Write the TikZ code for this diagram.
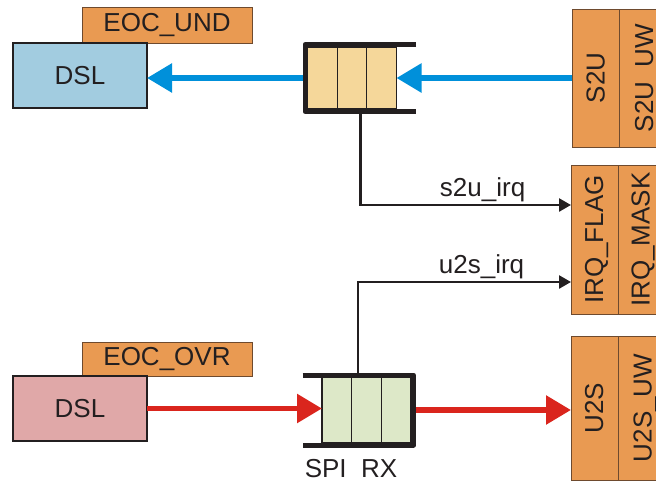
\documentclass[tikz,border=0pt]{standalone}
\usepackage{fontspec}
\setmainfont{Liberation Sans}
\usetikzlibrary{arrows.meta,positioning,calc}

\definecolor{regorange}{HTML}{E99A52}
\definecolor{regbrown}{HTML}{6E4A2E}
\definecolor{dslblue}{HTML}{A2CCE0}
\definecolor{dslpink}{HTML}{E0A8A8}
\definecolor{fifoyellow}{HTML}{F5D79A}
\definecolor{fifogreen}{HTML}{DDE8C8}
\definecolor{linkblue}{HTML}{0090DA}
\definecolor{linkred}{HTML}{DA251D}
\definecolor{inkblack}{HTML}{231F20}

\begin{document}
\begin{tikzpicture}[x=1pt,y=-1pt,
        font=\fontsize{26}{28}\selectfont,text=inkblack,
        dslbox/.style={draw=inkblack,line width=2pt,minimum width=134pt,minimum height=65pt,inner sep=0pt,outer sep=0pt},
        tagbox/.style={draw=regbrown,line width=1pt,fill=regorange,minimum width=170pt,inner sep=0pt,outer sep=0pt},
        regbox/.style={draw=regbrown,line width=1pt,fill=regorange,minimum width=47pt,inner sep=0pt,outer sep=0pt},
        regtext/.style={rotate=90,anchor=base,inner sep=0pt},
        fifobox/.style={minimum width=111pt,inner sep=0pt,outer sep=0pt},
        fifocells/.style={draw=inkblack,line width=1.2pt,minimum width=89pt,inner sep=0pt,outer sep=0pt},
        bracket/.style={draw=inkblack,line width=5pt,line join=round},
        bus/.style={line width=5.5pt,-{Triangle[length=25pt,width=28pt]}},
        sig/.style={draw=inkblack,line width=2.5pt,-{Triangle[length=12pt,width=13pt]}},
        siglabel/.style={above,inner sep=2pt}]
        \path[use as bounding box,clip] (0,0) rectangle (656,482);

        % tags and DSL blocks
        \node[tagbox,minimum height=36pt] (eocU) at (167,25) {EOC\_UND};
        \node[dslbox,fill=dslblue,anchor=north west] (dslU) at ([xshift=-69pt]eocU.south west) {DSL};
        \node[tagbox,minimum height=34pt] (eocD) at (167,359) {EOC\_OVR};
        \node[dslbox,fill=dslpink,anchor=north west] (dslD) at ([xshift=-69pt]eocD.south west) {DSL};

        % FIFOs
        \node[fifobox,minimum height=67pt] (fifoU) at (360.5,78) {};
        \node[fifocells,fill=fifoyellow,minimum height=62pt,anchor=west] (cellsU) at ([xshift=2.5pt]fifoU.west) {};
        \node[fifobox,minimum height=70pt] (fifoD) at (358,410) {};
        \node[fifocells,fill=fifogreen,minimum height=65pt,anchor=east] (cellsD) at ([xshift=-2.5pt]fifoD.east) {};
        \foreach \k in {1,2} {
            \draw[inkblack,line width=1.2pt] ($(cellsU.north west)!\k/3!(cellsU.north east)$) -- ($(cellsU.south west)!\k/3!(cellsU.south east)$);
            \draw[inkblack,line width=1.2pt] ($(cellsD.north west)!\k/3!(cellsD.north east)$) -- ($(cellsD.south west)!\k/3!(cellsD.south east)$);
        }
        \node[below=14pt of fifoD.south,xshift=-7pt,inner sep=0pt] (spiRx) {SPI~\hspace{0.278em}RX};

        % registers
        \node[regbox,minimum height=138pt] (s2u) at (595.5,78) {};
        \node[regbox,minimum height=138pt,right=0pt of s2u] (s2uUW) {};
        \node[regbox,minimum height=149pt] (irqFlag) at (594.5,239.5) {};
        \node[regbox,minimum height=149pt,right=0pt of irqFlag] (irqMask) {};
        \node[regbox,minimum height=144pt] (u2s) at (594.5,408) {};
        \node[regbox,minimum height=144pt,right=0pt of u2s] (u2sUW) {};
        \node[regtext] (s2uText) at ([xshift=9pt]s2u.center) {S2U};
        \node[regtext] (s2uUWText) at ([xshift=10.5pt]s2uUW.center) {S2U\_UW};
        \node[regtext] (irqFlagText) at ([xshift=8.5pt]irqFlag.center) {IRQ\_FLAG};
        \node[regtext] (irqMaskText) at ([xshift=8pt]irqMask.center) {IRQ\_MASK};
        \node[regtext] (u2sText) at ([xshift=8.5pt]u2s.center) {U2S};
        \node[regtext] (u2sUWText) at ([xshift=10pt]u2sUW.center) {U2S\_UW};

        % data paths
        \draw[bus,linkblue] (s2u.west) -- (s2u.west -| cellsU.east);
        \draw[bus,linkblue] (fifoU.west) -- (fifoU.west -| dslU.east);
        \draw[bus,linkred] (dslD.east) -- (dslD.east -| cellsD.west);
        \draw[bus,linkred] (fifoD.east) -- (fifoD.east -| u2s.west);

        % interrupt lines
        \draw[sig] (fifoU.south) |- ([yshift=34.5pt]irqFlag.west) node[siglabel,pos=0.79] {s2u\_irq};
        \draw[sig] (fifoD.north) |- ([yshift=-42.5pt]irqFlag.west) node[siglabel,pos=0.79] {u2s\_irq};

        % FIFO brackets
        \draw[bracket] (fifoU.north east) -- (fifoU.north west) -- (fifoU.south west) -- (fifoU.south east);
        \draw[bracket] (fifoD.north west) -- (fifoD.north east) -- (fifoD.south east) -- (fifoD.south west);
    \end{tikzpicture}
\end{document}
